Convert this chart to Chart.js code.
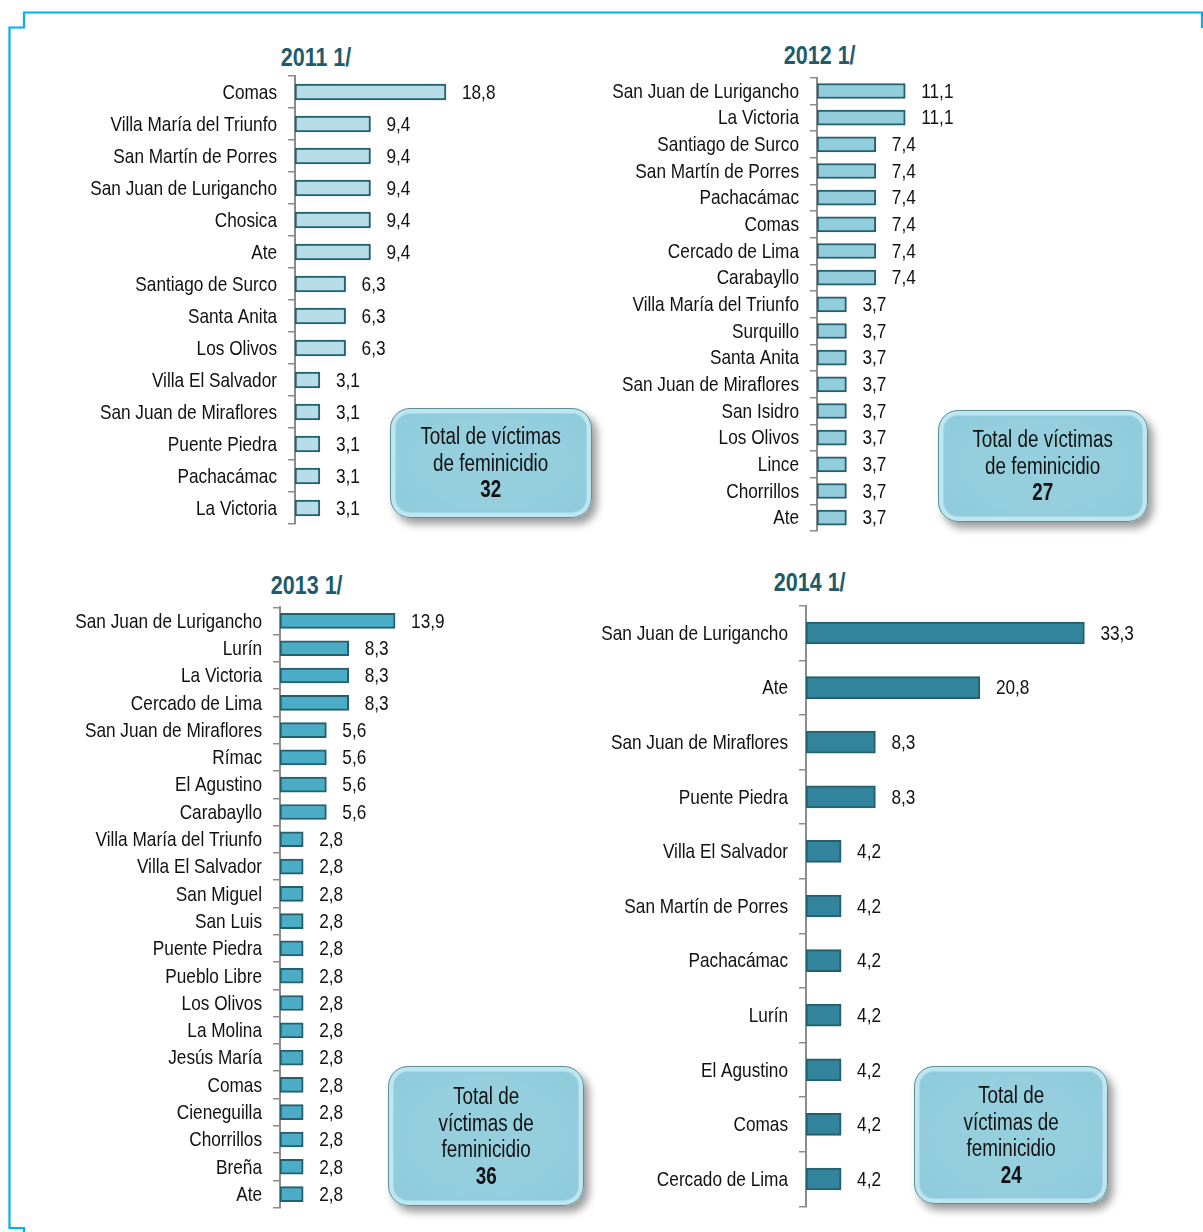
<!DOCTYPE html>
<html>
<head>
<meta charset="utf-8">
<script src="https://cdn.jsdelivr.net/npm/chart.js@4.4.1/dist/chart.umd.min.js"></script>
<style>
  html, body { margin: 0; padding: 0; background: #fff; }
  body { width: 1203px; height: 1232px; position: relative; overflow: hidden;
         font-family: 'Liberation Sans', Arial, sans-serif; }
  .panel { position: absolute; }
  .title { position: absolute; width: 200px; text-align: center; line-height: 30px;
           font-size: 25px; font-weight: bold; color: #215b6b; }
  .title .narrow { transform: scaleX(0.86); }
  .narrow { display: inline-block; transform: scaleX(0.82); transform-origin: center; white-space: nowrap; }
  .total { position: absolute; box-sizing: border-box; border-radius: 20px;
           border: 1px solid #5f8e98;
           background: radial-gradient(ellipse at center, #95cfde 55%, #8cc9da 100%);
           box-shadow: inset 0 0 0 4px #bce6f0, inset 0 0 0 5px #a6d8e5, 5px 6px 8px rgba(0,0,0,0.4);
           text-align: center; font-size: 23px; line-height: 26.5px; color: #111;
           display: flex; align-items: center; justify-content: center; }
  .total b { font-weight: bold; }
</style>
</head>
<body>
<svg width="1203" height="1232" style="position:absolute;left:0;top:0">
  <polyline points="1202,28 1202,12.5 24,12.5 24,27.5 9.5,27.5 9.5,1228 24,1228 24,1232"
            fill="none" stroke="#00b0f0" stroke-width="2.2"/>
</svg>

<div class="title" style="left:216px;top:42px"><span class="narrow">2011 1/</span></div>
<div class="title" style="left:720px;top:40px"><span class="narrow">2012 1/</span></div>
<div class="title" style="left:207px;top:570px"><span class="narrow">2013 1/</span></div>
<div class="title" style="left:710px;top:567px"><span class="narrow">2014 1/</span></div>

<div class="panel" style="left:0;top:70px;width:560px;height:460px"><canvas id="c2011"></canvas></div>
<div class="panel" style="left:560px;top:70px;width:450px;height:470px"><canvas id="c2012"></canvas></div>
<div class="panel" style="left:0;top:600px;width:500px;height:620px"><canvas id="c2013"></canvas></div>
<div class="panel" style="left:560px;top:600px;width:643px;height:620px"><canvas id="c2014"></canvas></div>

<div class="total" style="left:390px;top:408px;width:202px;height:110px"><span class="narrow">Total de víctimas<br>de feminicidio<br><b>32</b></span></div>
<div class="total" style="left:938px;top:410px;width:210px;height:112px"><span class="narrow">Total de víctimas<br>de feminicidio<br><b>27</b></span></div>
<div class="total" style="left:388px;top:1066px;width:196px;height:140px"><span class="narrow">Total de<br>víctimas de<br>feminicidio<br><b>36</b></span></div>
<div class="total" style="left:914px;top:1066px;width:194px;height:138px"><span class="narrow">Total de<br>víctimas de<br>feminicidio<br><b>24</b></span></div>

<script>
// datos por año (porcentaje de víctimas por distrito)
const labels2011 = ['Comas', 'Villa María del Triunfo', 'San Martín de Porres', 'San Juan de Lurigancho',
  'Chosica', 'Ate', 'Santiago de Surco', 'Santa Anita', 'Los Olivos', 'Villa El Salvador',
  'San Juan de Miraflores', 'Puente Piedra', 'Pachacámac', 'La Victoria'];
const values2011 = [18.8, 9.4, 9.4, 9.4, 9.4, 9.4, 6.3, 6.3, 6.3, 3.1, 3.1, 3.1, 3.1, 3.1];

const labels2012 = ['San Juan de Lurigancho', 'La Victoria', 'Santiago de Surco', 'San Martín de Porres',
  'Pachacámac', 'Comas', 'Cercado de Lima', 'Carabayllo', 'Villa María del Triunfo', 'Surquillo',
  'Santa Anita', 'San Juan de Miraflores', 'San Isidro', 'Los Olivos', 'Lince', 'Chorrillos', 'Ate'];
const values2012 = [11.1, 11.1, 7.4, 7.4, 7.4, 7.4, 7.4, 7.4, 3.7, 3.7, 3.7, 3.7, 3.7, 3.7, 3.7, 3.7, 3.7];

const labels2013 = ['San Juan de Lurigancho', 'Lurín', 'La Victoria', 'Cercado de Lima',
  'San Juan de Miraflores', 'Rímac', 'El Agustino', 'Carabayllo', 'Villa María del Triunfo',
  'Villa El Salvador', 'San Miguel', 'San Luis', 'Puente Piedra', 'Pueblo Libre', 'Los Olivos',
  'La Molina', 'Jesús María', 'Comas', 'Cieneguilla', 'Chorrillos', 'Breña', 'Ate'];
const values2013 = [13.9, 8.3, 8.3, 8.3, 5.6, 5.6, 5.6, 5.6, 2.8, 2.8, 2.8, 2.8, 2.8, 2.8, 2.8,
  2.8, 2.8, 2.8, 2.8, 2.8, 2.8, 2.8];

const labels2014 = ['San Juan de Lurigancho', 'Ate', 'San Juan de Miraflores', 'Puente Piedra',
  'Villa El Salvador', 'San Martín de Porres', 'Pachacámac', 'Lurín', 'El Agustino', 'Comas',
  'Cercado de Lima'];
const values2014 = [33.3, 20.8, 8.3, 8.3, 4.2, 4.2, 4.2, 4.2, 4.2, 4.2, 4.2];

const FONT = "'Liberation Sans', Arial, sans-serif";
const NARROW = 0.82; // imitar Arial Narrow
Chart.defaults.font.family = FONT;

const fmt = v => v.toFixed(1).replace('.', ',');

// texto angosto: escala horizontal
function narrowText(ctx, txt, x, y, align) {
  ctx.save();
  ctx.translate(x, y);
  ctx.scale(NARROW, 1);
  ctx.textAlign = align;
  ctx.fillText(txt, 0, 0);
  ctx.restore();
}

// nombres de distritos + valores al final de cada barra
const narrowLabels = {
  id: 'narrowLabels',
  afterDatasetsDraw(chart) {
    const ctx = chart.ctx;
    const yScale = chart.scales.y;
    const data = chart.data.datasets[0].data;
    ctx.save();
    ctx.font = '21px ' + FONT;
    ctx.fillStyle = '#111';
    ctx.textBaseline = 'middle';
    chart.data.labels.forEach((lab, i) => {
      narrowText(ctx, lab, chart.chartArea.left - 18, yScale.getPixelForValue(i) + 1, 'right');
    });
    chart.getDatasetMeta(0).data.forEach((bar, i) => {
      narrowText(ctx, fmt(data[i]), bar.x + 16, bar.y + 1, 'left');
    });
    ctx.restore();
  }
};

function makeChart(id, labels, values, o) {
  new Chart(document.getElementById(id), {
    type: 'bar',
    data: {
      labels: labels,
      datasets: [{
        data: values,
        backgroundColor: o.fill,
        borderColor: '#245f6e',
        borderWidth: 2,
        borderSkipped: false,
        barThickness: o.thick
      }]
    },
    options: {
      indexAxis: 'y',
      responsive: true,
      maintainAspectRatio: false,
      animation: false,
      layout: { padding: { top: o.padTop, bottom: o.padBottom, right: o.padRight, left: 0 } },
      plugins: { legend: { display: false }, tooltip: { enabled: false } },
      scales: {
        x: { display: false, min: 0, max: o.xmax },
        y: {
          afterFit: s => { s.width = o.axisW; },
          grid: { offset: true, drawOnChartArea: false, tickLength: 7, color: '#8c8c8c', lineWidth: 1.5 },
          border: { color: '#8c8c8c', width: 2 },
          ticks: { display: false, autoSkip: false }
        }
      }
    },
    plugins: [narrowLabels]
  });
}

makeChart('c2011', labels2011, values2011, { fill: '#b7dee8', thick: 16, xmax: 25, axisW: 295, padTop: 6, padBottom: 6, padRight: 560 - 295 - 25 * 8.03 });
makeChart('c2012', labels2012, values2012, { fill: '#92cddc', thick: 15, xmax: 15, axisW: 257, padTop: 7.7, padBottom: 9, padRight: 450 - 257 - 15 * 7.95 });
makeChart('c2013', labels2013, values2013, { fill: '#4bacc6', thick: 15, xmax: 18, axisW: 280, padTop: 7.3, padBottom: 12.3, padRight: 500 - 280 - 18 * 8.28 });
makeChart('c2014', labels2014, values2014, { fill: '#31849b', thick: 22, xmax: 40, axisW: 246, padTop: 5.7, padBottom: 13.7, padRight: 643 - 246 - 40 * 8.36 });
</script>
</body>
</html>
